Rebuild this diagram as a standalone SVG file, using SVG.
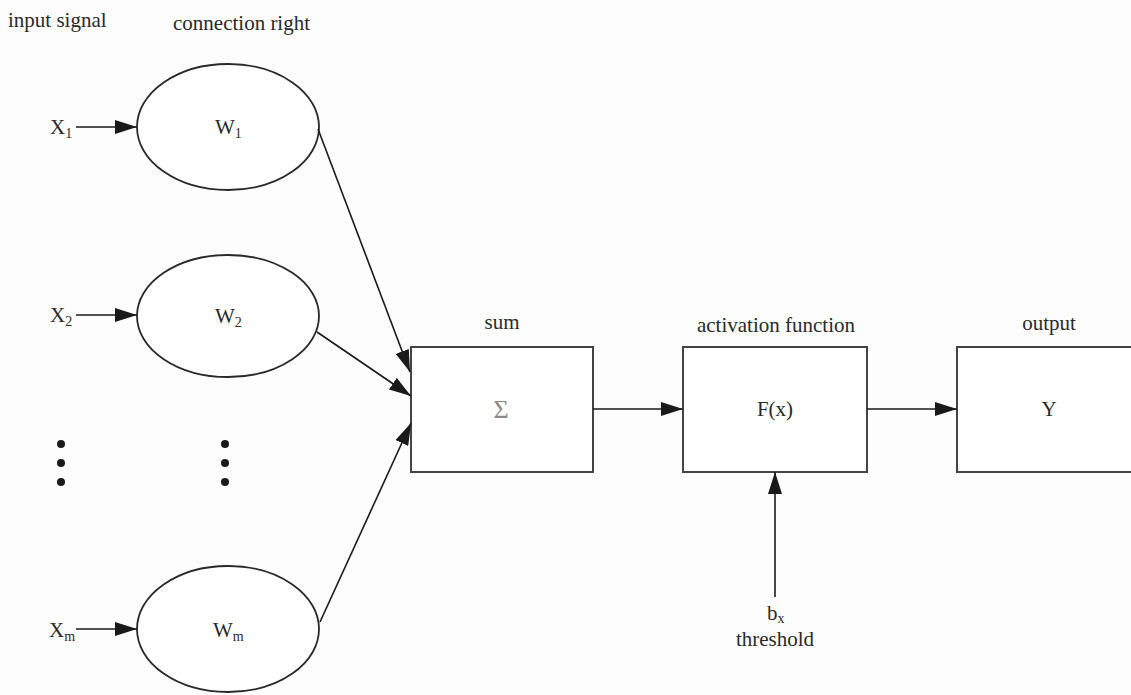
<svg xmlns="http://www.w3.org/2000/svg" width="1131" height="695" viewBox="0 0 1131 695">
  <defs>
    <marker id="arrow" viewBox="0 0 22 14" refX="22" refY="7" markerWidth="22" markerHeight="14" markerUnits="userSpaceOnUse" orient="auto">
      <path d="M0,0 L22,7 L0,14 Z" fill="#1a1a1a"/>
    </marker>
  </defs>
  <style>
    text { font-family: "Liberation Serif", "Times New Roman", serif; font-size: 21px; fill: #2a2a2a; }
    .mid { text-anchor: middle; }
    .sub { font-size: 14px; }
    .node { fill: #ffffff; stroke: #2a2a2a; stroke-width: 1.8; }
    .box { fill: #ffffff; stroke: #444444; stroke-width: 2; }
    .link { stroke: #1a1a1a; stroke-width: 1.6; fill: none; marker-end: url(#arrow); }
    .dot { fill: #1a1a1a; }
  </style>
  <rect width="1131" height="695" fill="#fdfdfd"/>

  <!-- column headings -->
  <text x="8" y="27">input signal</text>
  <text x="173" y="30">connection right</text>

  <!-- input signals -->
  <g id="x1"><text x="50" y="134">X<tspan class="sub" dy="4">1</tspan></text></g>
  <g id="x2"><text x="50" y="322">X<tspan class="sub" dy="4">2</tspan></text></g>
  <g id="xm"><text x="49" y="637">X<tspan class="sub" dy="4">m</tspan></text></g>

  <!-- weights -->
  <g id="w1">
    <ellipse class="node" cx="228" cy="127" rx="91" ry="63"/>
    <text x="215" y="134">W<tspan class="sub" dy="4">1</tspan></text>
  </g>
  <g id="w2">
    <ellipse class="node" cx="228" cy="316" rx="91" ry="61"/>
    <text x="215" y="323">W<tspan class="sub" dy="4">2</tspan></text>
  </g>
  <g id="wm">
    <ellipse class="node" cx="228" cy="629" rx="91" ry="63"/>
    <text x="213" y="637">W<tspan class="sub" dy="4">m</tspan></text>
  </g>

  <!-- ellipsis dots -->
  <g id="dots">
    <circle class="dot" cx="61" cy="444" r="4"/>
    <circle class="dot" cx="61" cy="463" r="4"/>
    <circle class="dot" cx="61" cy="482" r="4"/>
    <circle class="dot" cx="225" cy="444" r="4"/>
    <circle class="dot" cx="225" cy="463" r="4"/>
    <circle class="dot" cx="225" cy="482" r="4"/>
  </g>

  <!-- summation -->
  <g id="sum">
    <text class="mid" x="502" y="329">sum</text>
    <rect class="box" x="411" y="347" width="182" height="125"/>
    <text class="mid" x="501" y="418" style="fill:#8a8a8a;font-size:26px">Σ</text>
  </g>

  <!-- activation -->
  <g id="activation">
    <text class="mid" x="776" y="332">activation function</text>
    <rect class="box" x="683" y="347" width="184" height="125"/>
    <text class="mid" x="775" y="416">F(x)</text>
  </g>

  <!-- output -->
  <g id="output">
    <text class="mid" x="1049" y="330">output</text>
    <rect class="box" x="957" y="347" width="180" height="125"/>
    <text class="mid" x="1049" y="416">Y</text>
  </g>

  <!-- threshold -->
  <g id="threshold">
    <text x="767" y="620">b<tspan class="sub" dy="3">x</tspan></text>
    <text class="mid" x="775" y="646">threshold</text>
  </g>

  <!-- connectors -->
  <g id="connectors">
    <line class="link" x1="76" y1="127" x2="137" y2="127"/>
    <line class="link" x1="76" y1="315" x2="137" y2="315"/>
    <line class="link" x1="76" y1="629" x2="137" y2="629"/>
    <line class="link" x1="318" y1="129" x2="410" y2="372"/>
    <line class="link" x1="317" y1="332" x2="411" y2="396"/>
    <line class="link" x1="320" y1="622" x2="411" y2="423"/>
    <line class="link" x1="593" y1="409" x2="683" y2="409"/>
    <line class="link" x1="867" y1="409" x2="957" y2="409"/>
    <line class="link" x1="775" y1="597" x2="775" y2="472"/>
  </g>
</svg>
